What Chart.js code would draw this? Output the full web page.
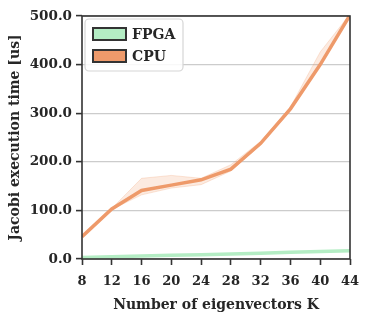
<!DOCTYPE html>
<html>
<head>
<meta charset="utf-8">
<script src="https://cdn.jsdelivr.net/npm/chart.js@4.4.1/dist/chart.umd.min.js"></script>
<style>
  html, body { margin: 0; padding: 0; background: #fff; }
  #wrap { width: 373px; height: 324px; }
</style>
</head>
<body>
<div id="wrap"><canvas id="chart" width="373" height="324"></canvas></div>
<script>
// eigenvectors K on the x axis
const kValues = [8, 12, 16, 20, 24, 28, 32, 36, 40, 44];
// mean execution times in us
const fpgaTimes = [3, 4.5, 6, 7.5, 9, 10.5, 12, 14, 15.5, 17];
const cpuTimes = [46, 103, 141, 152, 163, 185, 238, 309, 400, 502];
// spread around the CPU line (shaded band)
const cpuUpper = [47, 104, 166, 172, 166, 194, 242, 313, 426, 504];
const cpuLower = [45, 102, 132, 146, 153, 181, 235, 306, 398, 500];
const yTicks = [0, 100, 200, 300, 400, 500];

const FONT = 'DejaVu Serif';
const ORANGE = '#ee9a6b';
const GREEN = '#b4edc4';

function pts(ys) {
    return kValues.map((k, i) => ({ x: k, y: ys[i] }));
}

// frame around the plot plus the legend box in the top left corner
const framePlugin = {
    id: 'frame',
    afterDraw(chart) {
        const ctx = chart.ctx;
        const a = chart.chartArea;
        ctx.save();
        ctx.strokeStyle = '#333';
        ctx.lineWidth = 1.6;
        ctx.strokeRect(a.left, a.top, a.right - a.left, a.bottom - a.top);

        // legend
        const items = chart.data.datasets.filter(d => d.inLegend);
        const bx = a.left + 3, by = a.top + 3, bw = 98, bh = 52;
        ctx.fillStyle = 'rgba(255,255,255,0.85)';
        ctx.strokeStyle = '#d6d6d6';
        ctx.lineWidth = 1.2;
        ctx.beginPath();
        ctx.roundRect(bx, by, bw, bh, 4);
        ctx.fill();
        ctx.stroke();
        ctx.font = 'bold 14px "' + FONT + '"';
        ctx.textBaseline = 'middle';
        items.forEach((d, i) => {
            const cy = by + 15 + i * 22;
            ctx.fillStyle = d.borderColor;
            ctx.fillRect(bx + 8, cy - 6, 33, 12);
            ctx.strokeStyle = '#333';
            ctx.lineWidth = 2;
            ctx.strokeRect(bx + 8, cy - 6, 33, 12);
            ctx.fillStyle = '#262626';
            ctx.fillText(d.label, bx + 47, cy + 1);
        });
        ctx.restore();
    }
};

new Chart(document.getElementById('chart'), {
    type: 'line',
    data: {
        datasets: [
            {
                label: 'CPU upper',
                data: pts(cpuUpper),
                borderColor: 'rgba(238,154,107,0.25)',
                borderWidth: 1,
                pointRadius: 0,
                fill: false
            },
            {
                label: 'CPU lower',
                data: pts(cpuLower),
                borderColor: 'rgba(238,154,107,0.25)',
                backgroundColor: 'rgba(238,154,107,0.2)',
                borderWidth: 1,
                pointRadius: 0,
                fill: '-1'
            },
            {
                label: 'FPGA',
                inLegend: true,
                data: pts(fpgaTimes),
                borderColor: GREEN,
                borderWidth: 3.5,
                pointRadius: 0,
                fill: false
            },
            {
                label: 'CPU',
                inLegend: true,
                data: pts(cpuTimes),
                borderColor: ORANGE,
                borderWidth: 3.5,
                pointRadius: 0,
                fill: false
            }
        ]
    },
    options: {
        responsive: false,
        animation: false,
        layout: { padding: { left: 7, right: 23, top: 16, bottom: 10 } },
        plugins: {
            legend: { display: false },
            tooltip: { enabled: false }
        },
        scales: {
            x: {
                type: 'linear',
                min: 8,
                max: 44,
                afterBuildTicks: s => { s.ticks = kValues.map(v => ({ value: v })); },
                afterFit: s => { s.height = 55; },
                border: { display: false },
                grid: {
                    drawOnChartArea: false,
                    drawTicks: true,
                    tickLength: 6,
                    tickWidth: 1.6,
                    tickColor: '#333'
                },
                ticks: {
                    color: '#262626',
                    padding: 9,
                    maxRotation: 0,
                    font: { family: FONT, size: 13, weight: 'bold' }
                },
                title: {
                    display: true,
                    text: 'Number of eigenvectors K',
                    color: '#262626',
                    padding: { top: 4, bottom: 0 },
                    font: { family: FONT, size: 14, weight: 'bold' }
                }
            },
            y: {
                min: 0,
                max: 500,
                afterBuildTicks: s => { s.ticks = yTicks.map(v => ({ value: v })); },
                afterFit: s => { s.width = 75; },
                border: { display: false },
                grid: {
                    color: '#cccccc',
                    lineWidth: 1.2,
                    drawTicks: true,
                    tickLength: 6,
                    tickWidth: 1.6,
                    tickColor: '#333'
                },
                ticks: {
                    color: '#262626',
                    padding: 4,
                    callback: v => v.toFixed(1),
                    font: { family: FONT, size: 13.5, weight: 'bold' }
                },
                title: {
                    display: true,
                    text: 'Jacobi execution time [us]',
                    color: '#262626',
                    padding: { top: 0, bottom: 2 },
                    font: { family: FONT, size: 14, weight: 'bold' }
                }
            }
        }
    },
    plugins: [framePlugin]
});
</script>
</body>
</html>
